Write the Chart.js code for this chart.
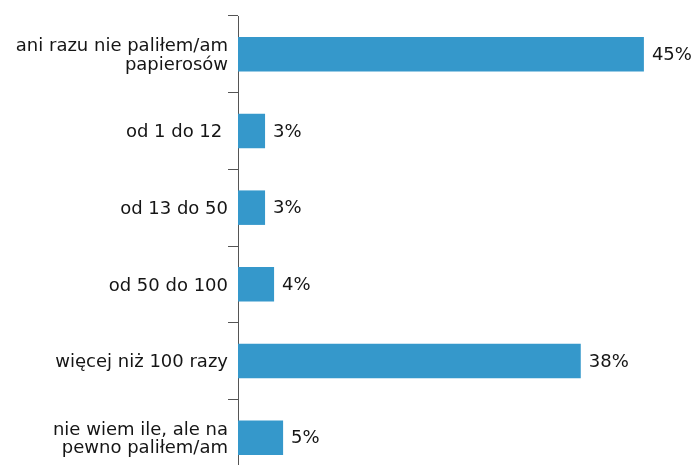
<!DOCTYPE html>
<html>
<head>
<meta charset="utf-8">
<script src="https://cdn.jsdelivr.net/npm/chart.js@4/dist/chart.umd.min.js"></script>
<style>
  html, body { margin: 0; padding: 0; background: #ffffff; overflow: hidden; }
  #wrap { width: 695px; height: 465px; overflow: hidden; position: relative; }
  canvas { display: block; }
</style>
</head>
<body>
<div id="wrap"><canvas id="c" width="695" height="477"></canvas></div>
<script>
const categories = [
  ["ani razu nie paliłem/am", "papierosów"],
  "od 1 do 12 ",
  "od 13 do 50",
  "od 50 do 100",
  "więcej niż 100 razy",
  ["nie wiem ile, ale na", "pewno paliłem/am"]
];
const values = [45, 3, 3, 4, 38, 5];
const valueLabels = ["45%", "3%", "3%", "4%", "38%", "5%"];

const FONT = "'DejaVu Sans', 'Liberation Sans', Arial, sans-serif";
const TEXT = "#151515";
const AXIS = "#555555";

const valueLabelPlugin = {
  id: 'valueLabels',
  afterDatasetsDraw(chart) {
    const ctx = chart.ctx;
    const meta = chart.getDatasetMeta(0);
    ctx.save();
    ctx.font = "18px " + FONT;
    ctx.fillStyle = TEXT;
    ctx.textAlign = 'left';
    ctx.textBaseline = 'middle';
    meta.data.forEach((bar, i) => {
      ctx.fillText(valueLabels[i], bar.x + 8, bar.y + 1);
    });
    ctx.restore();
  }
};

new Chart(document.getElementById('c'), {
  type: 'bar',
  data: {
    labels: categories,
    datasets: [{
      data: values,
      backgroundColor: '#3598cb',
      borderWidth: 0,
      categoryPercentage: 1.0,
      barPercentage: 0.45
    }]
  },
  options: {
    indexAxis: 'y',
    responsive: false,
    animation: false,
    events: [],
    layout: { padding: { top: 16, bottom: 1, left: 0, right: 6 } },
    plugins: { legend: { display: false }, tooltip: { enabled: false } },
    scales: {
      x: {
        display: false,
        min: 0,
        max: 50
      },
      y: {
        afterFit(scale) {
          scale.width = 238;
          scale.paddingTop = 0;
          scale.paddingBottom = 0;
        },
        border: { display: true, color: AXIS, width: 1 },
        grid: {
          display: true,
          offset: true,
          drawOnChartArea: false,
          drawTicks: true,
          tickLength: 10,
          color: AXIS,
          lineWidth: 1
        },
        ticks: {
          padding: 0,
          labelOffset: 1.5,
          color: TEXT,
          font: { family: FONT, size: 18, lineHeight: 1.02 },
          crossAlign: 'near'
        }
      }
    }
  },
  plugins: [valueLabelPlugin]
});
</script>
</body>
</html>
